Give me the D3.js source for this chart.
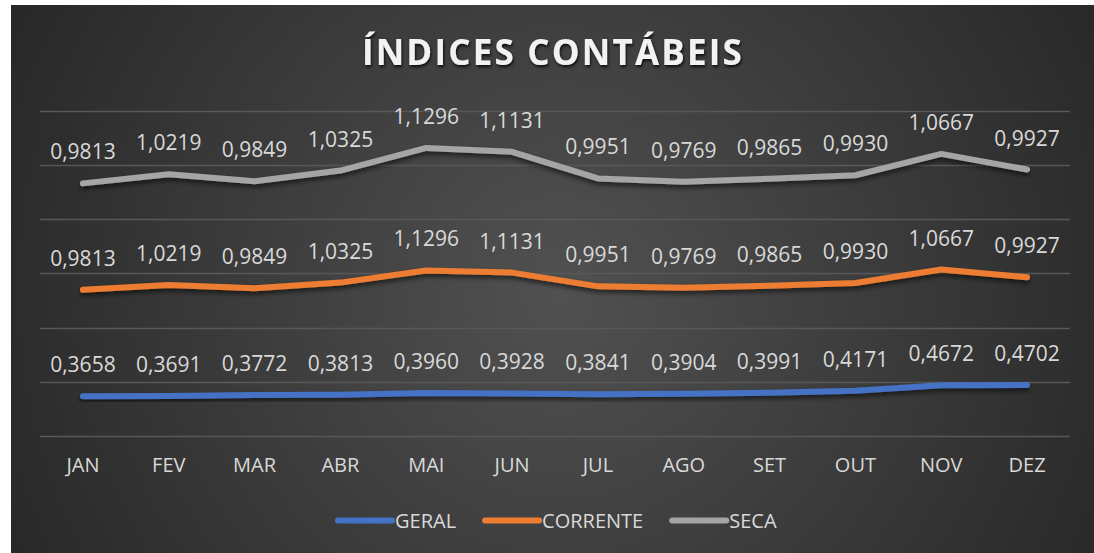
<!DOCTYPE html>
<html>
<head>
<meta charset="utf-8">
<script src="https://cdn.jsdelivr.net/npm/d3@7"></script>
<style>
  html, body { margin: 0; padding: 0; background: #ffffff; }
  svg { display: block; font-family: "Open Sans", "Noto Sans", sans-serif; }
</style>
</head>
<body>
<svg id="chart" width="1094" height="553"></svg>
<script>
// dados
const meses = ["JAN", "FEV", "MAR", "ABR", "MAI", "JUN", "JUL", "AGO", "SET", "OUT", "NOV", "DEZ"];
const geral = [0.3658, 0.3691, 0.3772, 0.3813, 0.3960, 0.3928, 0.3841, 0.3904, 0.3991, 0.4171, 0.4672, 0.4702];
const corrente = [0.9813, 1.0219, 0.9849, 1.0325, 1.1296, 1.1131, 0.9951, 0.9769, 0.9865, 0.9930, 1.0667, 0.9927];
const seca = [0.9813, 1.0219, 0.9849, 1.0325, 1.1296, 1.1131, 0.9951, 0.9769, 0.9865, 0.9930, 1.0667, 0.9927];
const gridTicks = [0, 0.5, 1, 1.5, 2, 2.5, 3];

const series = [
    {name: "GERAL", values: geral, color: "#4472C4"},
    {name: "CORRENTE", values: corrente, color: "#ED7D31"},
    {name: "SECA", values: seca, color: "#A5A5A5"}
];

const fmt = v => d3.format(".4f")(v).replace(".", ",");

const svg = d3.select("#chart");

// fundo com gradiente
let defs = svg.append("defs");
let grad = defs.append("radialGradient")
    .attr("id", "bg")
    .attr("gradientUnits", "userSpaceOnUse")
    .attr("cx", 560).attr("cy", 290).attr("r", 640);
grad.append("stop").attr("offset", "0%").attr("stop-color", "#515151");
grad.append("stop").attr("offset", "100%").attr("stop-color", "#262626");

let shadow = defs.append("filter").attr("id", "shadow")
    .attr("x", "-10%").attr("y", "-50%").attr("width", "120%").attr("height", "200%");
shadow.append("feDropShadow")
    .attr("dx", 0).attr("dy", 3).attr("stdDeviation", 2.5)
    .attr("flood-color", "#000").attr("flood-opacity", 0.6);

let titleShadow = defs.append("filter").attr("id", "tshadow");
titleShadow.append("feDropShadow")
    .attr("dx", 1).attr("dy", 2).attr("stdDeviation", 1.5)
    .attr("flood-color", "#000").attr("flood-opacity", 0.8);

svg.append("rect")
    .attr("x", 11).attr("y", 5)
    .attr("width", 1083).attr("height", 548)
    .attr("fill", "url(#bg)");

// escalas
const x = d3.scaleBand().domain(meses).range([40, 1070]);
const y = d3.scaleLinear().domain([0, 3]).range([436, 110.5]);

// grade
svg.append("g").selectAll("line")
    .data(gridTicks)
    .join("line")
    .attr("x1", 40).attr("x2", 1070)
    .attr("y1", d => Math.round(y(d)) + 0.5)
    .attr("y2", d => Math.round(y(d)) + 0.5)
    .attr("stroke", "#585858")
    .attr("stroke-width", 1.3);

// empilhamento
let stackData = meses.map((m, i) => {
    let row = {mes: m};
    series.forEach(s => row[s.name] = s.values[i]);
    return row;
});
let stacked = d3.stack().keys(series.map(s => s.name))(stackData);

const line = d3.line()
    .x((d, i) => x(meses[i]) + x.bandwidth() / 2)
    .y(d => y(d[1]));

svg.append("g").selectAll("path")
    .data(stacked)
    .join("path")
    .attr("d", d => line(d))
    .attr("fill", "none")
    .attr("stroke", (d, i) => series[i].color)
    .attr("stroke-width", 6)
    .attr("stroke-linecap", "round")
    .attr("stroke-linejoin", "round")
    .attr("filter", "url(#shadow)");

// rótulos
stacked.forEach((layer, si) => {
    svg.append("g").selectAll("text")
        .data(layer)
        .join("text")
        .attr("x", (d, i) => x(meses[i]) + x.bandwidth() / 2)
        .attr("y", d => y(d[1]) - 24)
        .attr("text-anchor", "middle")
        .attr("font-size", 21)
        .attr("fill", "#d9d9d9")
        .text((d, i) => fmt(series[si].values[i]));
});

// eixo x
const xAxis = svg.append("g")
    .attr("transform", "translate(0,436)")
    .call(d3.axisBottom(x).tickSize(0).tickPadding(22));
xAxis.select(".domain").remove();
xAxis.selectAll("text")
    .attr("font-family", "\"Open Sans\", sans-serif")
    .attr("font-size", 20)
    .attr("fill", "#d9d9d9");

// título
svg.append("text")
    .attr("x", 553)
    .attr("y", 65)
    .attr("text-anchor", "middle")
    .attr("font-size", 35)
    .attr("font-weight", "bold")
    .attr("letter-spacing", 2.2)
    .attr("fill", "#f2f2f2")
    .attr("filter", "url(#tshadow)")
    .text("ÍNDICES CONTÁBEIS");

// legenda
let legend = svg.append("g");
let lx = 338;
series.forEach(s => {
    legend.append("line")
        .attr("x1", lx).attr("x2", lx + 54)
        .attr("y1", 520.5).attr("y2", 520.5)
        .attr("stroke", s.color)
        .attr("stroke-width", 6)
        .attr("stroke-linecap", "round");
    let t = legend.append("text")
        .attr("x", lx + 57)
        .attr("y", 527.5)
        .attr("font-size", 20)
        .attr("fill", "#d9d9d9")
        .text(s.name);
    lx += 57 + t.node().getComputedTextLength() + 29;
});
</script>
</body>
</html>
